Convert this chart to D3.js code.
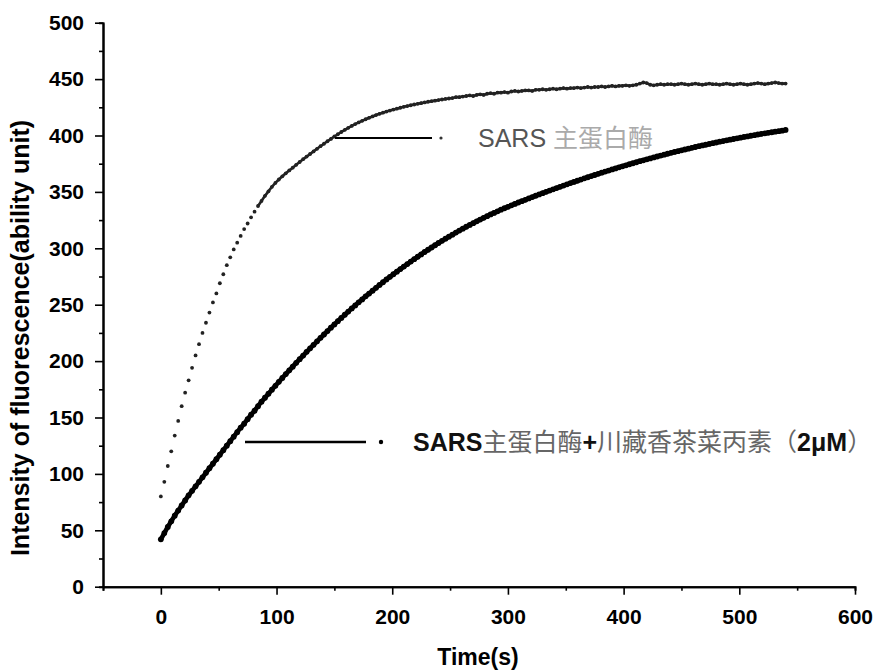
<!DOCTYPE html>
<html><head><meta charset="utf-8">
<script src="https://cdn.jsdelivr.net/npm/d3@7/dist/d3.min.js"></script>
<style>body{margin:0;background:#fff}</style>
</head><body>
<svg id="chart" width="892" height="672"></svg>
<script>
// ---- data ----
const sampleInterval = 3; // seconds between readings, first reading at t = 0
const seriesNames = ["SARS 主蛋白酶", "SARS主蛋白酶+川藏香茶菜丙素（2μM）"];
// SARS main protease alone
const enzymeOnly = [
  80, 93, 107, 120, 134, 147, 160, 172, 183, 194,
  205, 215, 225, 234, 243, 252, 260, 269, 277, 285,
  292, 299, 305, 311, 317, 322, 327.5, 332.5, 337.5, 342,
  346.5, 350.5, 354.5, 358, 361, 363.8, 366.5, 369, 371.5, 374,
  376.5, 379, 381.3, 383.6, 385.9, 388.2, 390.5, 392.7, 394.9, 397,
  399.1, 401.1, 403.1, 405, 406.8, 408.5, 410.1, 411.6, 413, 414.4,
  415.7, 416.9, 418.1, 419.2, 420.2, 421.2, 422.1, 423, 423.8, 424.6,
  425.4, 426.1, 426.8, 427.5, 428.1, 428.7, 429.3, 429.9, 430.4, 430.9,
  431.4, 431.9, 432.4, 432.8, 433.2, 434, 434, 434.5, 435, 435.5,
  435, 436, 436.5, 436, 437, 437.5, 437, 438, 438, 438.5,
  438, 439, 439.5, 439, 439.5, 440, 440, 439.5, 440.5, 440.5,
  441, 440.5, 441, 441.5, 441, 441.5, 442, 441.5, 442, 442,
  442.5, 442, 442.5, 443, 442.5, 443, 443, 443.5, 443, 443.5,
  444, 443.5, 444, 444, 444.5, 444, 444.5, 445, 446, 447,
  446.5, 445, 444.5, 445, 445.5, 445, 445.5, 445.5, 445, 445.5,
  446, 445.5, 445, 445.5, 446, 445.5, 445, 445.5, 446, 445.5,
  445.5, 445, 445.5, 446, 445.5, 445, 445.5, 446, 445.5, 445,
  445.5, 446, 446.5, 446, 445.5, 446, 446.5, 447, 446.5, 446,
  446
];
// SARS main protease + inhibitor (2 μM)
const enzymeInhibitor = [
  42, 47.5, 53, 58, 63, 67.5, 72, 76.5, 81, 85,
  89, 93, 97, 101, 105, 109, 113, 117, 121, 125,
  129, 133, 137, 141, 144.5, 148.5, 152.5, 156, 160, 164,
  167.5, 171.1, 174.7, 178.1, 181.6, 185, 188.5, 191.8, 195.1, 198.5,
  201.7, 204.9, 208.2, 211.3, 214.4, 217.5, 220.6, 223.6, 226.6, 229.6,
  232.5, 235.4, 238.3, 241.1, 243.9, 246.7, 249.4, 252.1, 254.7, 257.4,
  259.9, 262.4, 265, 267.5, 269.9, 272.4, 274.7, 277, 279.3, 281.6,
  283.8, 286, 288.2, 290.4, 292.5, 294.6, 296.7, 298.7, 300.7, 302.7,
  304.7, 306.6, 308.5, 310.3, 312.1, 313.9, 315.7, 317.4, 319.1, 320.7,
  322.3, 323.9, 325.5, 327, 328.5, 330, 331.4, 332.8, 334.2, 335.5,
  336.8, 338.1, 339.3, 340.6, 341.8, 343, 344.2, 345.4, 346.6, 347.8,
  348.9, 350.1, 351.2, 352.3, 353.4, 354.5, 355.6, 356.7, 357.8, 358.8,
  359.9, 360.9, 362, 363, 364, 365, 366, 367, 368, 368.9,
  369.9, 370.8, 371.8, 372.7, 373.6, 374.5, 375.4, 376.3, 377.2, 378,
  378.9, 379.7, 380.6, 381.4, 382.2, 383, 383.8, 384.6, 385.4, 386.1,
  386.9, 387.6, 388.3, 389.1, 389.8, 390.5, 391.2, 391.8, 392.5, 393.2,
  393.8, 394.5, 395.1, 395.7, 396.3, 396.9, 397.5, 398.1, 398.7, 399.2,
  399.8, 400.3, 400.9, 401.4, 401.9, 402.4, 402.9, 403.4, 403.8, 404.3,
  404.9
];
const xMajorTicks = [0, 100, 200, 300, 400, 500, 600];
const xMinorTicks = [-50, 50, 150, 250, 350, 450, 550];
const yMajorTicks = [0, 50, 100, 150, 200, 250, 300, 350, 400, 450, 500];
const yMinorTicks = [25, 75, 125, 175, 225, 275, 325, 375, 425, 475];
const xTitle = "Time(s)";
const yTitle = "Intensity of fluorescence(ability unit)";

// ---- drawing ----
const svg = d3.select("#chart");
const FONT = "'Liberation Sans', Arial, 'Noto Sans CJK SC', sans-serif";
const x = d3.scaleLinear().domain([-50, 600]).range([103, 855]);
const y = d3.scaleLinear().domain([0, 500]).range([586.7, 22.7]);

function styleAxis(g) {
  g.select(".domain").attr("stroke", "#000").attr("stroke-width", 2);
  g.selectAll(".tick line").attr("stroke", "#000").attr("stroke-width", 1.6);
  g.selectAll("text").attr("font-family", FONT).attr("font-weight", "bold")
    .attr("font-size", 21).attr("fill", "#000");
}

// y axis
svg.append("g").attr("transform", `translate(${x(-50)},0)`)
  .call(d3.axisLeft(y).tickValues(yMinorTicks).tickSize(4).tickFormat(""))
  .call(styleAxis);
svg.append("g").attr("transform", `translate(${x(-50)},0)`)
  .call(d3.axisLeft(y).tickValues(yMajorTicks).tickSize(8).tickPadding(11).tickSizeOuter(0))
  .call(styleAxis);
// x axis
svg.append("g").attr("transform", `translate(0,${y(0)})`)
  .call(d3.axisBottom(x).tickValues(xMinorTicks).tickSize(4).tickFormat(""))
  .call(styleAxis);
svg.append("g").attr("transform", `translate(0,${y(0)})`)
  .call(d3.axisBottom(x).tickValues(xMajorTicks).tickSize(8).tickPadding(14).tickSizeOuter(0))
  .call(styleAxis);

// titles
svg.append("text").attr("x", 478).attr("y", 665).attr("text-anchor", "middle")
  .attr("font-family", FONT).attr("font-weight", "bold").attr("font-size", 23).text(xTitle);
svg.append("text").attr("transform", "translate(29,338) rotate(-90)").attr("text-anchor", "middle")
  .attr("font-family", FONT).attr("font-weight", "bold").attr("font-size", 25).text(yTitle);

// series: scatter markers, joined where consecutive markers overlap into a trace
const toPoints = arr => arr.map((v, i) => ({t: i * sampleInterval, v}));
function drawSeries(arr, r, color, width, joinDist) {
  const pts = toPoints(arr).map(d => ({px: x(d.t), py: y(d.v)}));
  const segs = d3.pairs(pts).filter(([a, b]) => Math.hypot(b.px - a.px, b.py - a.py) < joinDist);
  const g = svg.append("g");
  g.selectAll("line").data(segs).join("line")
    .attr("x1", d => d[0].px).attr("y1", d => d[0].py)
    .attr("x2", d => d[1].px).attr("y2", d => d[1].py)
    .attr("stroke", color).attr("stroke-width", width).attr("stroke-linecap", "round");
  g.selectAll("circle").data(pts).join("circle")
    .attr("cx", d => d.px).attr("cy", d => d.py).attr("r", r).attr("fill", color);
}
drawSeries(enzymeInhibitor, 2.9, "#000", 4.6, 100);
drawSeries(enzymeOnly, 1.9, "#222", 2.6, 6.5);

// legend 1 (enzyme only)
svg.append("line").attr("x1", 335).attr("x2", 432).attr("y1", 138).attr("y2", 138)
  .attr("stroke", "#000").attr("stroke-width", 2);
svg.append("circle").attr("cx", 441).attr("cy", 138).attr("r", 1.6).attr("fill", "#333");
const t1 = svg.append("text").attr("x", 478).attr("y", 147).attr("font-family", FONT).attr("font-size", 25);
t1.append("tspan").attr("fill", "#555").text("SARS ");
t1.append("tspan").attr("fill", "#aaa").text(seriesNames[0].split(" ")[1]);

// legend 2 (enzyme + inhibitor)
svg.append("line").attr("x1", 245).attr("x2", 366).attr("y1", 442).attr("y2", 442)
  .attr("stroke", "#000").attr("stroke-width", 2.5);
svg.append("circle").attr("cx", 381).attr("cy", 442).attr("r", 2.2).attr("fill", "#000");
const t2 = svg.append("text").attr("x", 413).attr("y", 451).attr("font-family", FONT).attr("font-size", 25);
t2.append("tspan").attr("fill", "#111").attr("font-weight", "bold").text("SARS");
t2.append("tspan").attr("fill", "#666").text("主蛋白酶");
t2.append("tspan").attr("fill", "#111").attr("font-weight", "bold").text("+");
t2.append("tspan").attr("fill", "#666").text("川藏香茶菜丙素（");
t2.append("tspan").attr("fill", "#111").attr("font-weight", "bold").text("2μM");
t2.append("tspan").attr("fill", "#666").text("）");
</script>
</body></html>
